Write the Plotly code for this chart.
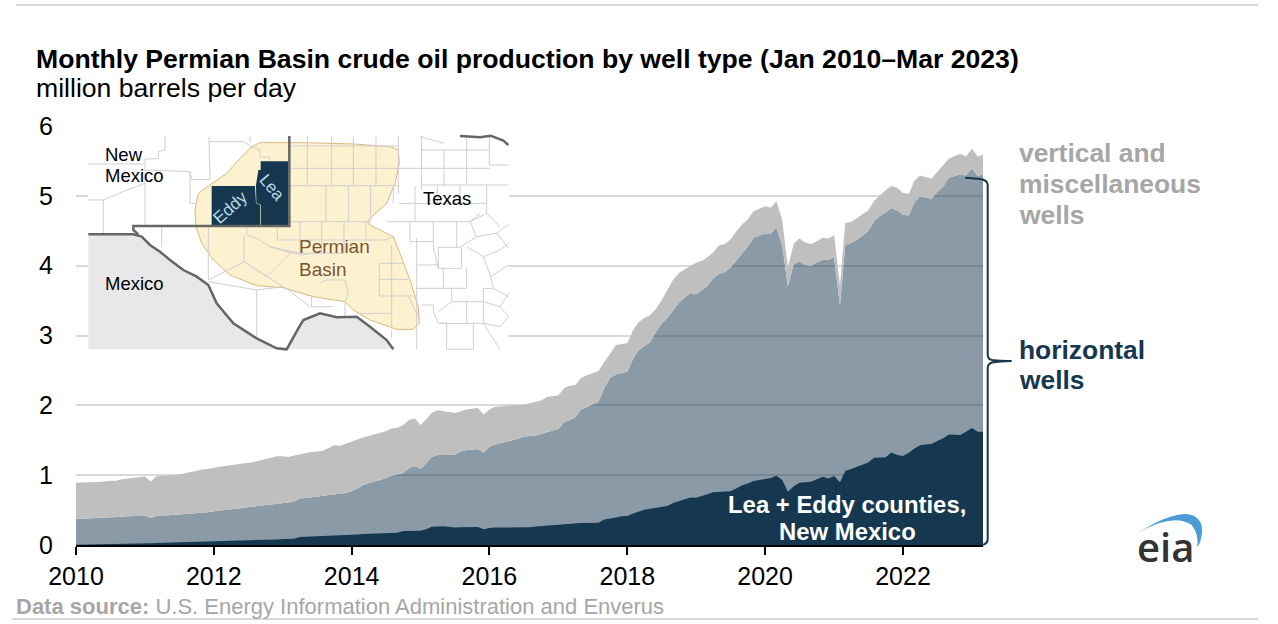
import re
import pandas as pd
import plotly.graph_objects as go

W, H = 1278, 624
months = pd.date_range("2010-01-01", "2023-03-01", freq="MS").strftime("%Y-%m-%d").tolist()
year_ticks = ["2010-01-01", "2012-01-01", "2014-01-01", "2016-01-01", "2018-01-01", "2020-01-01", "2022-01-01"]
year_labels = ["2010", "2012", "2014", "2016", "2018", "2020", "2022"]

# top of the stack: all wells
total = [
    .89, .90, .90, .90, .90, .91, .92, .92, .94, .95, .96, .97,
    .98, .91, .98, .99, .99, 1.00, 1.01, 1.03, 1.05, 1.07, 1.08, 1.09,
    1.11, 1.12, 1.13, 1.14, 1.15, 1.16, 1.17, 1.19, 1.21, 1.23, 1.25, 1.27,
    1.27, 1.26, 1.28, 1.30, 1.32, 1.33, 1.34, 1.35, 1.39, 1.43, 1.42, 1.45,
    1.49, 1.51, 1.54, 1.56, 1.58, 1.60, 1.63, 1.67, 1.68, 1.72, 1.79, 1.81,
    1.72, 1.80, 1.89, 1.93, 1.92, 1.90, 1.89, 1.91, 1.94, 1.95, 1.965, 1.87,
    1.94, 1.98, 1.99, 1.99, 2.00, 2.00, 2.01, 2.03, 2.05, 2.07, 2.12, 2.13,
    2.145, 2.25, 2.28, 2.29, 2.39, 2.43, 2.46, 2.49, 2.62, 2.73, 2.86, 2.88,
    2.89, 3.08, 3.19, 3.25, 3.29, 3.38, 3.50, 3.65, 3.80, 3.89, 3.95, 4.00,
    4.04, 4.07, 4.12, 4.19, 4.29, 4.31, 4.37, 4.49, 4.59, 4.66, 4.78, 4.82,
    4.85, 4.83, 4.925, 4.65, 3.98, 4.315, 4.39, 4.33, 4.31, 4.35, 4.40, 4.39,
    4.435, 3.72, 4.61, 4.625, 4.68, 4.73, 4.79, 4.93, 5.01, 5.08, 5.14, 5.115,
    5.04, 5.03, 5.21, 5.29, 5.27, 5.245, 5.34, 5.43, 5.53, 5.57, 5.60, 5.565,
    5.675, 5.565, 5.59,
]
# horizontal wells (including Lea + Eddy)
horizontal = [
    .372, .375, .378, .38, .385, .39, .395, .40, .405, .41, .412, .415,
    .42, .386, .415, .42, .425, .43, .435, .44, .445, .45, .46, .47,
    .482, .49, .50, .51, .52, .53, .54, .55, .56, .575, .585, .595,
    .60, .61, .62, .665, .67, .68, .69, .705, .715, .725, .735, .745,
    .77, .81, .86, .89, .91, .93, .96, .99, 1.01, 1.03, 1.10, 1.13,
    1.09, 1.17, 1.26, 1.29, 1.30, 1.295, 1.29, 1.34, 1.36, 1.365, 1.373, 1.32,
    1.41, 1.44, 1.46, 1.48, 1.50, 1.52, 1.555, 1.565, 1.565, 1.59, 1.62, 1.64,
    1.66, 1.76, 1.79, 1.83, 1.94, 1.98, 2.02, 2.05, 2.25, 2.39, 2.44, 2.46,
    2.48, 2.67, 2.79, 2.85, 2.90, 3.05, 3.17, 3.25, 3.37, 3.47, 3.54, 3.61,
    3.59, 3.66, 3.71, 3.82, 3.88, 3.91, 3.97, 4.07, 4.18, 4.27, 4.40, 4.43,
    4.46, 4.46, 4.55, 4.29, 3.705, 4.02, 4.065, 4.01, 4.00, 4.05, 4.085, 4.08,
    4.125, 3.43, 4.30, 4.325, 4.37, 4.43, 4.50, 4.64, 4.71, 4.76, 4.825, 4.79,
    4.73, 4.72, 4.90, 4.99, 4.97, 4.96, 5.05, 5.13, 5.26, 5.29, 5.31, 5.29,
    5.39, 5.28, 5.31,
]
# Lea + Eddy counties, New Mexico
lea_eddy = [
    .005, .006, .007, .008, .01, .012, .014, .016, .018, .02, .022, .025,
    .027, .025, .03, .032, .034, .036, .038, .04, .042, .044, .046, .048,
    .05, .052, .055, .058, .06, .063, .066, .069, .072, .075, .078, .08,
    .085, .085, .09, .115, .118, .12, .122, .125, .127, .13, .13, .135,
    .14, .15, .157, .16, .165, .167, .17, .175, .176, .20, .203, .205,
    .205, .225, .26, .265, .27, .26, .25, .255, .258, .258, .258, .224,
    .245, .25, .25, .252, .253, .254, .254, .255, .265, .272, .276, .28,
    .286, .30, .30, .305, .315, .316, .318, .32, .365, .375, .395, .41,
    .415, .45, .48, .505, .52, .53, .54, .56, .60, .625, .66, .68,
    .677, .70, .725, .755, .76, .765, .77, .81, .855, .88, .916, .93,
    .94, .96, .99, .93, .763, .84, .89, .90, .905, .94, .977, .954,
    .987, .897, 1.059, 1.09, 1.12, 1.16, 1.18, 1.25, 1.255, 1.255, 1.325, 1.287,
    1.273, 1.32, 1.38, 1.43, 1.44, 1.445, 1.49, 1.526, 1.583, 1.58, 1.574, 1.62,
    1.674, 1.62, 1.62,
]

NAVY = "#15374f"
FONT = "Liberation Sans"

fig = go.Figure()
fig.add_trace(go.Scatter(x=months, y=horizontal, mode="lines", line=dict(width=0),
                         fill="tozeroy", fillcolor="rgba(21,55,79,0.5)", name="horizontal wells", hoverinfo="skip"))
fig.add_trace(go.Scatter(x=months, y=total, mode="lines", line=dict(width=0),
                         fill="tonexty", fillcolor="#bfbfbf", name="vertical and miscellaneous wells", hoverinfo="skip"))
fig.add_trace(go.Scatter(x=months, y=lea_eddy, mode="lines", line=dict(width=0),
                         fill="tozeroy", fillcolor=NAVY, name="Lea + Eddy counties, New Mexico", hoverinfo="skip"))


def to_paper(path, f):
    """Convert a path written in some local pixel frame to paper coordinates."""
    toks = re.findall(r"[MLQCZ]|-?\d+\.?\d*", path)
    out, is_x = [], True
    for t in toks:
        if t in "MLQCZ":
            out.append(t)
        else:
            v = float(t)
            if is_x:
                out.append(f"{f(v, 0)[0] / W:.5f}")
            else:
                out.append(f"{1 - f(0, v)[1] / H:.5f}")
            is_x = not is_x
    return " ".join(out)


px = lambda x, y: (x, y)
mz = lambda x, y: (70 + x / 3, 120 + y / 3)     # inset map frame
lz = lambda x, y: (960 + x / 3, 400 + y / 3)    # logo frame

shapes = []


def add(path, f=px, fill=None, line=None, width=0):
    s = dict(type="path", xref="paper", yref="paper", layer="above", path=to_paper(path, f))
    s["fillcolor"] = fill if fill else "rgba(0,0,0,0)"
    s["line"] = dict(color=line, width=width) if line else dict(width=0)
    shapes.append(s)


# page rules
add("M16 5 L1258 5", line="#d9d9d9", width=2)
add("M12 619 L1258 619", line="#d9d9d9", width=2)

# inset map
add("M55 48 L1316 48 L1316 688 L55 688 Z", mz, fill="white")
add("M55 343 L190 343 L215 350 L240 375 L270 395 L300 420 L340 450 L380 470 L415 495 L440 550 L490 610 L560 655 "
    "L620 685 L650 688 L55 688 Z", mz, fill="#e8e8e8")
add("M650 688 L685 625 L700 600 L750 580 L800 592 L860 590 L900 620 L950 660 L970 688 Z", mz, fill="#e8e8e8")

permian = ("M570 68 L700 68 L850 72 L960 80 L985 90 L988 130 L975 190 L950 250 L895 300 L900 315 L970 350 L990 400 "
           "L1020 480 L1045 560 L1048 610 L1030 628 L980 628 L900 600 L850 570 L825 545 L730 530 L640 503 L560 497 "
           "L480 465 L430 420 L395 370 L378 320 L375 270 L385 220 L420 195 L470 160 L510 115 L545 80 Z")
add(permian, mz, fill="#fdf2d0", line="#dcb77e", width=1)

counties = (
    # New Mexico
    "M285 48 L285 90 L265 95 L265 115 L225 118 L225 318 M55 132 L225 132 M225 150 L360 155 L365 178 L420 178 L417 50 "
    "M417 65 L520 65 L545 80 L570 90 L570 110 L600 112 L600 124 M55 240 L100 240 L100 340 M100 240 L160 215 L225 190 "
    "M360 155 L360 250 L378 250 M275 318 L275 380 M540 48 L540 68 "
    # Texas panhandle-side grid
    "M712 48 L712 197 M785 48 L785 197 M850 48 L850 197 M918 48 L918 197 M985 48 L985 220 M1055 48 L1055 210 "
    "M1122 90 L1122 200 M1190 48 L1190 195 M1258 48 L1258 135 L1316 135 M660 78 L985 78 M1050 50 L1122 70 M1055 90 L1258 90 "
    "M660 145 L1260 145 M660 197 L985 197 M1055 195 L1316 195 M985 250 L1250 250 M660 305 L900 305 M768 197 L768 305 "
    "M835 197 L835 305 M902 197 L902 305 M970 197 L970 250 M1035 197 L1035 305 M1102 197 L1102 250 M1170 197 L1170 250 "
    "M1250 195 L1250 280 M950 305 L1200 305 M1020 305 L1020 365 M1090 305 L1090 382 L1105 445 M1160 305 L1160 382 "
    "M1020 365 L1090 365 M1230 280 L1200 305 L1220 350 L1170 382 L1105 382 L1105 445 L1175 445 L1175 382 "
    "M1220 350 L1280 340 L1316 312 M1200 305 L1250 280 L1290 320 M1280 340 L1316 385 M1240 410 L1290 390 L1316 370 "
    "M690 305 L690 400 M755 305 L755 400 M822 305 L822 400 M888 305 L888 365 M622 318 L622 360 L945 360 L970 350 "
    "M600 380 L690 400 L822 400 M965 375 L965 530 M928 430 L928 528 L1030 528 M928 430 L1000 430 M928 478 L1015 478 "
    "M1040 355 L1040 440 M1040 435 L1105 435 M1120 445 L1120 505 L1190 505 L1190 445 M1145 505 L1145 545 L1240 545 L1240 505 "
    "M1190 380 L1240 410 L1262 470 L1270 505 L1240 505 M1262 470 L1316 435 M1270 505 L1316 530 M1240 545 L1290 560 L1316 590 "
    "M1290 560 L1316 520 M1055 555 L1090 555 L1090 575 L1105 610 L1240 610 L1290 620 L1316 590 M1105 610 L1130 610 L1130 688 "
    "M1040 440 L1040 688 M1040 505 L1120 505 M1105 575 L1145 545 M1190 545 L1190 610 M1240 545 L1240 610 M1130 688 L1210 688 "
    "M1210 610 L1210 688 M1240 610 L1290 688 M965 630 L965 655 "
    # West Texas inside/under the basin
    "M530 318 L530 345 L560 355 L600 380 L650 395 L700 405 L720 400 M522 425 L415 480 M415 318 L415 480 "
    "M522 345 L522 425 L590 470 L660 400 M522 425 L655 510 L720 560 M415 485 L560 510 L640 500 M560 510 L560 650 "
    "M725 530 L725 560 L790 560 M750 490 L770 480 L825 480 L835 520 L825 545 M825 545 L825 590 M860 580 L965 580 "
    "M965 530 L965 625 M1016 530 L1050 600 "
)
add(counties, mz, line="#cfcfcf", width=1)

# Eddy and Lea
add("M425 198 L555 198 L558 250 L570 255 L570 316 L425 316 Z", mz, fill=NAVY)
add("M572 124 L655 124 L655 318 L572 316 L572 254 L559 249 L558 196 L565 150 L572 150 Z", mz, fill=NAVY)

# borders
add("M55 343 L190 343 L215 350 L240 375 L270 395 L300 420 L340 450 L380 470 L415 495 L440 550 L490 610 L560 655 "
    "L620 685 L650 688 L685 625 L700 600 L750 580 L800 592 L860 590 L900 620 L950 660 L970 688", mz, line="#666666", width=2.5)
add("M658 48 L658 318 L190 318 L190 330 L205 343", mz, line="#666666", width=2.5)
add("M1170 48 L1230 52 L1262 47 L1300 62 L1315 75", mz, line="#666666", width=2.5)

# bracket
add("M965.3 177.7 L980 179 Q987.7 180 987.7 185 L987.7 355 Q987.7 359 992 360 Q1000 361 1011.7 361 Q1000 361.5 992 362.5 "
    "Q987.7 364 987.7 368 L987.7 539 Q987.7 544 982 545", line=NAVY, width=2)

# logo swoosh
add("M533 400 Q620 342 680 342 Q728 348 726 395 Q724 425 712 442 Q716 400 695 375 Q660 350 600 368 Q560 382 533 400 Z",
    lz, fill="#4a9bd6")


def text(x, y, s, size, color="black", bold=False, anchor="left", angle=0, family=FONT, weight=None):
    if bold:
        s = f"<b>{s}</b>"
    f = dict(family=family, size=size, color=color)
    if weight:
        f["weight"] = weight
    if anchor == "left":
        x -= 2
    return dict(x=x / W, y=1 - y / H, xref="paper", yref="paper", text=s, showarrow=False, font=f,
                xanchor=anchor, yanchor="middle", align=anchor, textangle=angle)


def mt(x, y, s, size=18.5, color="black", anchor="left", angle=0):
    a, b = mz(x, y)
    return text(a, b, s, size, color, anchor=anchor, angle=angle)


annotations = [
    text(36, 59, "Monthly Permian Basin crude oil production by well type (Jan 2010–Mar 2023)", 26.6, bold=True),
    text(36, 88, "million barrels per day", 26.6),
    text(16, 606, "<b>Data source:</b> U.S. Energy Information Administration and Enverus", 22, "#a6a6a6"),
    text(1019, 153, "vertical and", 26.4, "#a6a6a6", True),
    text(1019, 184, "miscellaneous", 26.4, "#a6a6a6", True),
    text(1019, 215, "wells", 26.4, "#a6a6a6", True),
    text(1019, 350, "horizontal", 26.4, NAVY, True),
    text(1019, 380, "wells", 26.4, NAVY, True),
    text(847, 504, "Lea + Eddy counties,", 23.9, "white", True, anchor="center"),
    text(847, 531, "New Mexico", 23.9, "white", True, anchor="center"),
    text(1165, 546, "eia", 40, "#333333", anchor="center", family="Open Sans", weight=600),
    mt(105, 102, "New"),
    mt(105, 165, "Mexico"),
    mt(105, 490, "Mexico"),
    mt(1058, 235, "Texas"),
    mt(688, 381, "Permian", 19, "#7a5530"),
    mt(688, 447, "Basin", 19, "#7a5530"),
    mt(482, 263, "Eddy", 17, "#bcd8e8", anchor="center", angle=-42),
    mt(606, 201, "Lea", 17, "#bcd8e8", anchor="center", angle=50),
]

fig.update_layout(
    width=W, height=H, autosize=False,
    margin=dict(l=0, r=0, t=0, b=0, pad=0, autoexpand=False),
    paper_bgcolor="white", plot_bgcolor="white",
    showlegend=False,
    font=dict(family=FONT, size=20, color="black"),
    shapes=shapes, annotations=annotations,
    xaxis=dict(domain=[76 / W, 983 / W], type="date", range=[months[0], months[-1]],
               tickmode="array", tickvals=year_ticks, ticktext=year_labels,
               ticks="outside", ticklen=8, tickwidth=1.5, tickcolor="black",
               showline=True, linecolor="black", linewidth=2, showgrid=False, zeroline=False,
               tickfont=dict(family=FONT, size=25), ticklabelstandoff=0),
    yaxis=dict(domain=[(H - 545) / H, (H - 126) / H], range=[0, 6], tickmode="array",
               tickvals=[0, 1, 2, 3, 4, 5, 6], ticktext=["0", "1", "2", "3", "4", "5", "6"],
               showgrid=True, gridcolor="#d9d9d9", gridwidth=1.5, zeroline=False, showline=False, ticks="",
               tickfont=dict(family=FONT, size=25), ticklabelstandoff=22),
)

assert len(months) == len(total) == len(horizontal) == len(lea_eddy)
fig.write_html("out.html", config=dict(displayModeBar=False),
               post_script="document.body.style.margin='0';")
